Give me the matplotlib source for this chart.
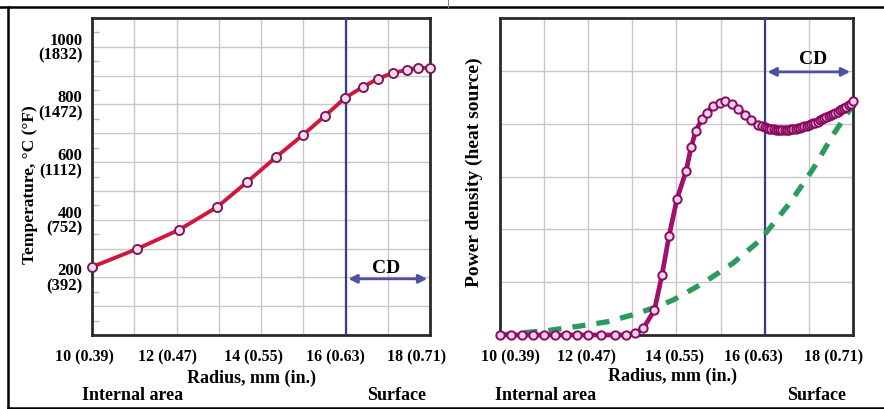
import matplotlib
matplotlib.use('Agg')
import matplotlib.pyplot as plt
from matplotlib.lines import Line2D
from matplotlib.ticker import MultipleLocator
from matplotlib.transforms import ScaledTranslation

plt.rcParams['font.family'] = ['Liberation Serif', 'DejaVu Serif']
plt.rcParams['font.weight'] = 'bold'

# Temperature profile (left panel)
radius_t = [10.0, 11.07, 12.06, 12.96, 13.67, 14.36, 14.99, 15.51, 15.99,
            16.41, 16.77, 17.12, 17.46, 17.72, 18.0]
temp_c = [236, 299, 365, 444, 531, 618, 694, 760, 823,
          861, 889, 910, 920, 927, 927]

# Power density (right panel)
radius_p = [10.0, 10.25, 10.5, 10.75, 11.0, 11.25, 11.5, 11.75, 12.0, 12.3,
            12.6, 12.85, 13.05, 13.25, 13.5, 13.67, 13.83, 14.01, 14.22, 14.33,
            14.44, 14.58, 14.69, 14.83, 14.99, 15.1, 15.25, 15.4, 15.55, 15.7,
            15.85, 15.93, 16.0, 16.05, 16.1, 16.15, 16.2, 16.25, 16.3, 16.35,
            16.4, 16.45, 16.5, 16.55, 16.6, 16.65, 16.7, 16.75, 16.8, 16.85,
            16.9, 16.95, 17.0, 17.05, 17.1, 17.15, 17.2, 17.25, 17.3, 17.35,
            17.4, 17.45, 17.5, 17.55, 17.6, 17.65, 17.7, 17.75, 17.8, 17.85,
            17.9, 17.95, 18.0]
power = [0, 0, 0, 0, 0, 0, 0, 0, 0, 0,
         0, 0, 0.03, 0.13, 0.47, 1.13, 1.87, 2.57, 3.11, 3.55,
         3.87, 4.09, 4.21, 4.34, 4.40, 4.43, 4.38, 4.28, 4.17, 4.07,
         3.98, 3.95, 3.93, 3.91, 3.90, 3.89, 3.89, 3.88, 3.88, 3.88,
         3.88, 3.88, 3.88, 3.88, 3.89, 3.89, 3.90, 3.91, 3.92, 3.93,
         3.95, 3.96, 3.98, 3.99, 4.01, 4.02, 4.04, 4.06, 4.08, 4.10,
         4.12, 4.14, 4.16, 4.18, 4.20, 4.22, 4.25, 4.27, 4.30, 4.32,
         4.35, 4.38, 4.42]

# Second (dashed) power density curve
radius_g = [10.0, 11.13, 11.81, 12.43, 13.0, 13.47, 13.92, 14.6, 15.28,
            15.89, 16.58, 17.1, 17.55, 17.94, 18.0]
power_g = [0, 0.09, 0.17, 0.25, 0.38, 0.51, 0.66, 0.98, 1.36,
           1.79, 2.51, 3.15, 3.79, 4.28, 4.4]

xticks = [10, 12, 14, 16, 18]
xlabels = ['10 (0.39)', '12 (0.47)', '14 (0.55)', '16 (0.63)', '18 (0.71)']
yticks = [200, 400, 600, 800, 1000]
ylabels = ['200\n(392)', '400\n(752)', '600\n(1112)', '800\n(1472)', '1000\n(1832)']
cd_radius = 16.0

# the printed labels sit a little off the grid lines (pixels)
shift_left = [-8, -9, -8, -10, -14]
shift_right = [10, -2, -2, -11, -19]

fig = plt.figure(figsize=(8.84, 4.09), dpi=100)
ax1 = fig.add_axes([0.1041, 0.1809, 0.3824, 0.7751])
ax2 = fig.add_axes([0.5656, 0.1809, 0.3993, 0.7751])

grid_kw = dict(color='#c8c8c8', linewidth=1.0)

for ax, shifts in ((ax1, shift_left), (ax2, shift_right)):
    ax.set_xlim(10, 18)
    ax.grid(True, which='major', **grid_kw)
    ax.set_axisbelow(True)
    for s in ax.spines.values():
        s.set_color('#2a2a2a')
        s.set_linewidth(2)
    ax.set_xticks(range(10, 19))
    ax.set_xticklabels([xlabels[xticks.index(t)] if t in xticks else ''
                        for t in range(10, 19)])
    ax.tick_params(axis='x', length=0, pad=10, labelsize=11.5)
    labels = ax.get_xticklabels()
    for i, t in enumerate(xticks):
        lab = labels[t - 10]
        lab.set_transform(lab.get_transform() +
                          ScaledTranslation(shifts[i] / 100.0, 0,
                                            fig.dpi_scale_trans))
    ax.axvline(cd_radius, color='#3a3a8a', linewidth=1.6, zorder=3)

# Left panel
ax1.set_ylim(0, 1100)
ax1.set_yticks(range(0, 1200, 100))
ax1.set_yticklabels([ylabels[yticks.index(t)] if t in yticks else ''
                     for t in range(0, 1200, 100)], linespacing=0.9)
ax1.tick_params(axis='y', length=0, pad=7, labelsize=12)
ax1.yaxis.set_minor_locator(MultipleLocator(50))
ax1.tick_params(axis='y', which='minor', direction='in', length=5,
                color='#bbbbbb', width=1)
ax1.plot(radius_t, temp_c, color='#d0183c', linewidth=2.8, marker='o',
         markersize=6.5, markerfacecolor='#f6dcee', markeredgecolor='#7a1a5a',
         markeredgewidth=1.4, zorder=4, clip_on=False)
ax1.set_ylabel('Temperature, \u00b0C (\u00b0F)', fontsize=12.5,
               fontweight='bold')
ax1.yaxis.set_label_coords(-0.16, 0.475)
ax1.set_xlabel('Radius, mm (in.)', fontsize=13, fontweight='bold')
ax1.xaxis.set_label_coords(0.473, -0.108)
ax1.annotate('', xy=(18, 195), xytext=(cd_radius, 195),
             arrowprops=dict(arrowstyle='<|-|>,head_length=0.5,head_width=0.25',
                             color='#5050a0', lw=2, facecolor='#e4e4f4'),
             zorder=5)
ax1.text(16.95, 203, 'CD', fontsize=14, fontweight='bold', ha='center',
         va='bottom')

# Right panel
ax2.set_ylim(0, 6)
ax2.set_yticks(range(0, 7))
ax2.set_yticklabels([])
ax2.tick_params(axis='y', length=0)
ax2.plot(radius_g, power_g, color='#2a9a5e', linewidth=3.8,
         dashes=(2.5, 2.1), zorder=4)
ax2.plot(radius_p, power, color='#a0106c', linewidth=3.4, marker='o',
         markersize=6, markerfacecolor='#f2d2ea', markeredgecolor='#8a0a60',
         markeredgewidth=1.4, zorder=5, clip_on=False)
ax2.set_ylabel('Power density (heat source)', fontsize=14, fontweight='bold')
ax2.yaxis.set_label_coords(-0.048, 0.514)
ax2.set_xlabel('Radius, mm (in.)', fontsize=13, fontweight='bold')
ax2.xaxis.set_label_coords(0.49, -0.102)
ax2.annotate('', xy=(18, 4.98), xytext=(cd_radius, 4.98),
             arrowprops=dict(arrowstyle='<|-|>,head_length=0.5,head_width=0.25',
                             color='#5050a0', lw=2, facecolor='#e4e4f4'),
             zorder=5)
ax2.text(17.1, 5.05, 'CD', fontsize=14, fontweight='bold', ha='center',
         va='bottom')

# Region labels below each panel
for x, t in [(0.150, 'Internal area'), (0.449, 'Surface'),
             (0.617, 'Internal area'), (0.924, 'Surface')]:
    fig.text(x, 0.034, t, fontsize=13, fontweight='bold', ha='center',
             va='center')

# Outer frame
fw = 884.0
fh = 409.0
fig.add_artist(Line2D([0, 1], [1 - 7 / fh, 1 - 7 / fh], color='black', lw=1.8))
fig.add_artist(Line2D([8 / fw, 8 / fw], [1 - 7 / fh, 1 - 408 / fh],
                      color='black', lw=1.8))
fig.add_artist(Line2D([8 / fw, 1], [1 - 408 / fh, 1 - 408 / fh],
                      color='black', lw=1.8))
fig.add_artist(Line2D([448 / fw, 448 / fw], [1, 1 - 7 / fh],
                      color='#8080c0', lw=0.8))

fig.savefig('out.png', dpi=100)
